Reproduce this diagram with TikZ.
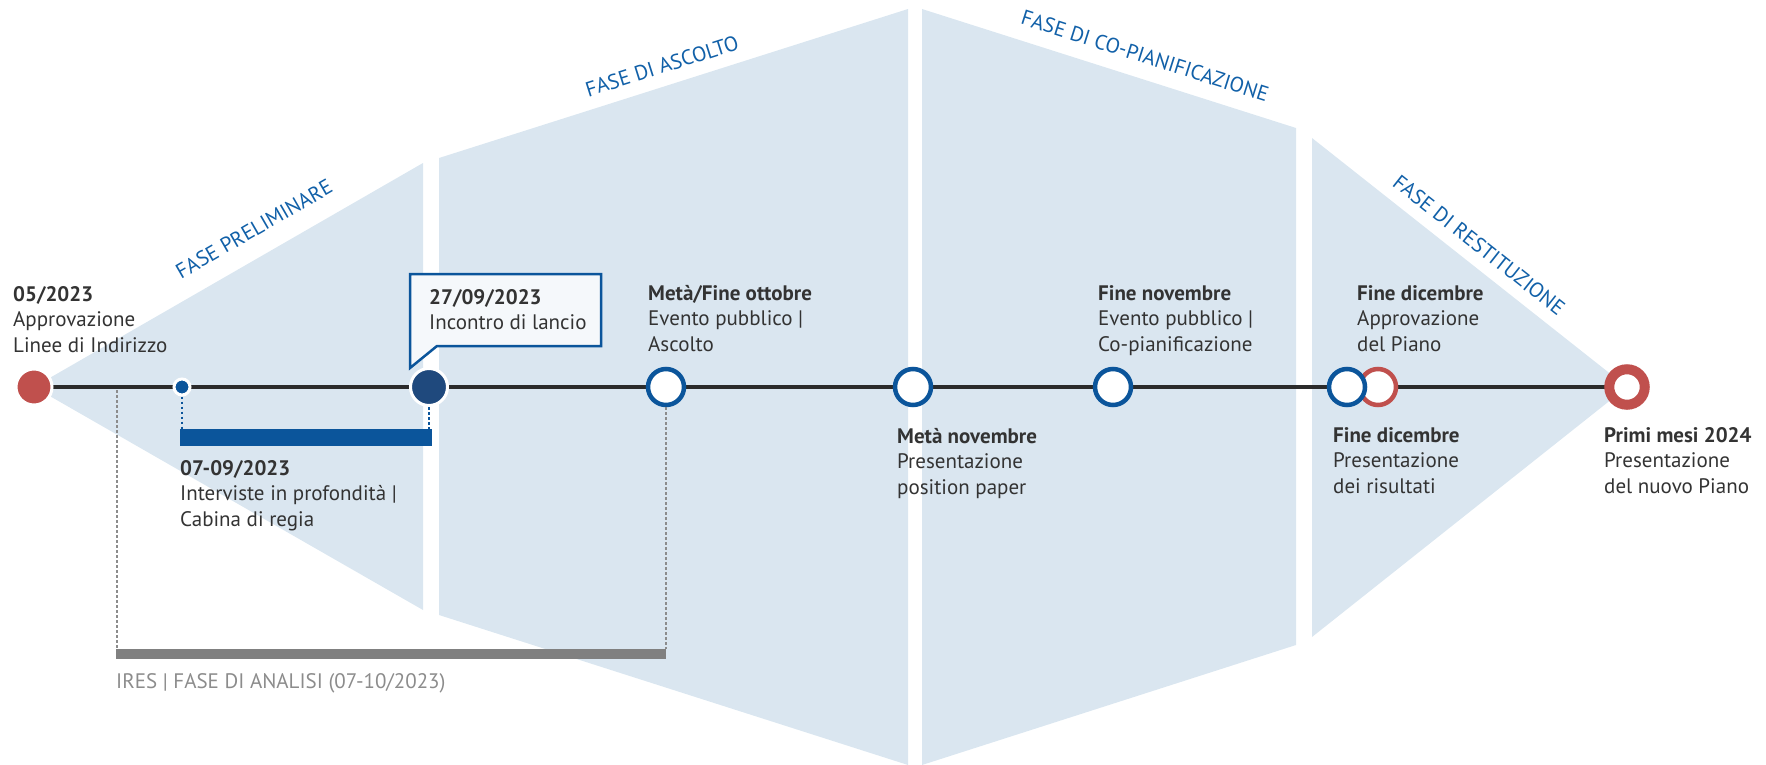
\documentclass[tikz,border=0pt]{standalone}
\usepackage{fontspec}
\setmainfont{PT Sans}
\definecolor{pale}{HTML}{DAE6F0}
\definecolor{tblue}{HTML}{0B559B}
\definecolor{dblue}{HTML}{1F497D}
\definecolor{tred}{HTML}{C0504D}
\definecolor{tline}{HTML}{2B2B2B}
\definecolor{tgray}{HTML}{808080}
\definecolor{dgray}{HTML}{8C8C8C}
\definecolor{ttext}{HTML}{333333}
\definecolor{phase}{HTML}{1160A8}
\definecolor{callfill}{HTML}{F5F8FB}
\newcommand{\lblthree}[3]{\begin{tabular}[t]{@{}l@{}}\textbf{#1}\\#2\\#3\end{tabular}}
\newcommand{\lbltwo}[2]{\begin{tabular}[t]{@{}l@{}}\textbf{#1}\\#2\end{tabular}}
\tikzset{
  lab/.style={anchor=base west, inner sep=0pt, text=ttext, font=\fontsize{21}{25.5}\selectfont},
  phaselab/.style={text=phase, inner sep=0pt, font=\fontsize{21}{24}\selectfont},
  phasearea/.style={fill=pale, draw=none},
  ring/.style={circle, draw=tblue, line width=4.5pt, fill=white, minimum size=36pt, inner sep=0pt},
  redring/.style={ring, draw=tred},
  bigring/.style={circle, draw=tred, line width=10pt, fill=white, minimum size=35.5pt, inner sep=0pt},
  fdot/.style={circle, draw=white, line width=3pt, inner sep=0pt},
  bluedots/.style={draw=tblue, line width=2.5pt, dash pattern=on 2.5pt off 2.5pt},
  graydots/.style={draw=dgray, line width=2.5pt, dash pattern=on 2.5pt off 2.5pt},
  bar/.style={anchor=north west, inner sep=0pt, draw=none}
}
\begin{document}
\begin{tikzpicture}[x=1pt,y=-1pt]
\useasboundingbox (0,0) rectangle (1766,765);
% phase shapes
\fill[phasearea] (34,387) -- (423,163) -- (423,610) -- cycle;
\fill[phasearea] (439,158) -- (908,9) -- (908,765) -- (439,615) -- cycle;
\fill[phasearea] (922,9) -- (1296,128) -- (1296,645) -- (922,765) -- cycle;
\fill[phasearea] (1312,138) -- (1627,387) -- (1312,637) -- cycle;
% phase labels
\node[phaselab, rotate=30] (ph1) at (254,229) {FASE PRELIMINARE};
\node[phaselab, rotate=17.6] (ph2) at (662,66) {FASE DI ASCOLTO};
\node[phaselab, rotate=-17.6] (ph3) at (1145,56) {FASE DI CO-PIANIFICAZIONE};
\node[phaselab, rotate=-38.3] (ph4) at (1479,245) {FASE DI RESTITUZIONE};
% timeline
\coordinate (c0) at (34,387);
\coordinate (c1) at (182,387);
\coordinate (c2) at (429,387);
\coordinate (c3) at (666,387);
\coordinate (c4) at (913,387);
\coordinate (c5) at (1113,387);
\coordinate (c6) at (1347,387);
\coordinate (c7) at (1378,387);
\coordinate (c8) at (1627,387);
\coordinate (g0) at (117,390);
\draw[tline, line width=4.5pt] (c0) -- (c8);
% bars
\node[bar, fill=tblue, minimum width=252pt, minimum height=17pt] (bbar) at (180,429) {};
\node[bar, fill=tgray, minimum width=550pt, minimum height=10pt] (gbar) at (116,649) {};
% callout
\draw[draw=tblue, fill=callfill, line width=2.5pt, line join=miter] (410,368) -- (410,274) -- (601,274) -- (601,346) -- (437,346) -- cycle;
% circles
\node[fdot, fill=tred, minimum size=36pt] (n0) at (c0) {};
\node[fdot, fill=tblue, minimum size=16pt] (n1) at (c1) {};
\node[fdot, fill=dblue, minimum size=37pt] (n2) at (c2) {};
\node[ring] (n3) at (c3) {};
\node[ring] (n4) at (c4) {};
\node[ring] (n5) at (c5) {};
\node[redring] (n7) at (c7) {};
\node[ring] (n6) at (c6) {};
\node[bigring] (n8) at (c8) {};
% dotted connectors
\draw[bluedots] (n1.south) -- (n1.south |- bbar.north);
\draw[bluedots] (n2.south) -- (n2.south |- bbar.north);
\draw[graydots] (g0) -- (g0 |- gbar.north);
\draw[graydots] (n3.south) -- (n3.south |- gbar.north);
% labels
\node[lab] (t0) at (13,301) {\lblthree{05/2023}{Approvazione}{Linee di Indirizzo}};
\node[lab] (t2) at (429,304) {\lbltwo{27/09/2023}{Incontro di lancio}};
\node[lab] (t1) at (180,475) {\lblthree{07-09/2023}{Interviste in profondità |}{Cabina di regia}};
\node[lab] (t3) at (648,300) {\lblthree{Metà/Fine ottobre}{Evento pubblico |}{Ascolto}};
\node[lab] (t4) at (897,443) {\lblthree{Metà novembre}{Presentazione}{position paper}};
\node[lab] (t5) at (1098,300) {\lblthree{Fine novembre}{Evento pubblico |}{Co-pianificazione}};
\node[lab] (t7) at (1357,300) {\lblthree{Fine dicembre}{Approvazione}{del Piano}};
\node[lab] (t6) at (1333,442) {\lblthree{Fine dicembre}{Presentazione}{dei risultati}};
\node[lab] (t8) at (1604,442) {\lblthree{Primi mesi 2024}{Presentazione}{del nuovo Piano}};
\node[lab, text=dgray] (tires) at (116,688) {IRES | FASE DI ANALISI (07-10/2023)};
\end{tikzpicture}
\end{document}
